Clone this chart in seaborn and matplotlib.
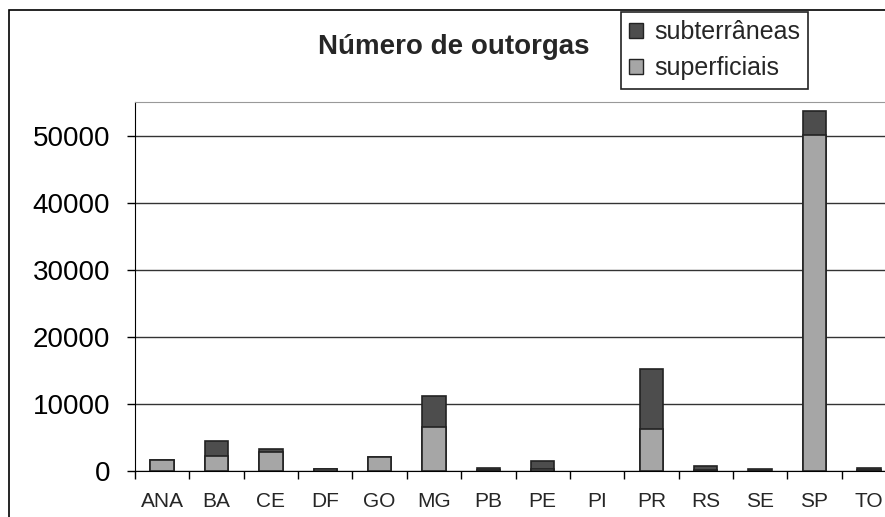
import numpy as np
import pandas as pd
import matplotlib
matplotlib.use("Agg")
import matplotlib.pyplot as plt
from matplotlib.patches import Patch, Rectangle
import seaborn as sns

estados = ["ANA", "BA", "CE", "DF", "GO", "MG", "PB", "PE", "PI", "PR", "RS", "SE", "SP", "TO"]
superficiais = [1600, 2230, 2780, 250, 2080, 6550, 100, 250, np.nan, 6200, 200, 50, 50150, 100]
subterraneas = [0, 2190, 550, 50, 0, 4670, 400, 1300, np.nan, 8930, 500, 250, 3450, 400]

COR_SUB = "#4d4d4d"
COR_SUP = "#a6a6a6"

sns.set_style("white")
plt.rcParams["font.family"] = ["Liberation Sans", "DejaVu Sans"]

df = pd.DataFrame({"estado": estados, "superficiais": superficiais,
                   "subterraneas": subterraneas})
df["total"] = df["superficiais"] + df["subterraneas"]

W, H = 885, 517
fig = plt.figure(figsize=(W / 100, H / 100), dpi=100)
x0, x1, ytop, ybot = 135, 896, 102, 471
ax = fig.add_axes([x0 / W, 1 - ybot / H, (x1 - x0) / W, (ybot - ytop) / H])

# moldura externa do gráfico
fig.patches.append(Rectangle((9 / W, -0.2), 2, 1.2 - 10 / H, fill=False,
                             edgecolor="black", linewidth=1.2,
                             transform=fig.transFigure, zorder=0))

sns.barplot(data=df, x="estado", y="total", order=estados, color=COR_SUB,
            width=0.43, edgecolor="#222222", linewidth=1.2, saturation=1,
            ax=ax, zorder=3)
sns.barplot(data=df, x="estado", y="superficiais", order=estados, color=COR_SUP,
            width=0.43, edgecolor="#222222", linewidth=1.2, saturation=1,
            ax=ax, zorder=4)

ax.set_ylim(0, 55000)
ax.set_xlim(-0.5, len(estados) - 0.5)
ax.set_yticks(np.arange(0, 50001, 10000))
ax.yaxis.grid(True, color="#333333", linewidth=1)
ax.set_axisbelow(True)
ax.set_xlabel("")
ax.set_ylabel("")

ax.tick_params(axis="y", labelsize=20, length=6, width=1, pad=12,
               direction="out", left=True, colors="black")
ax.tick_params(axis="x", which="major", labelsize=15, length=0, pad=15)
ax.set_xticks(np.arange(-0.5, len(estados), 1), minor=True)
ax.tick_params(axis="x", which="minor", length=6, width=1, direction="out",
               bottom=True, color="black")

ax.spines["left"].set_color("black")
ax.spines["bottom"].set_color("black")
ax.spines["top"].set_color("#999999")
ax.spines["right"].set_visible(False)

fig.text(454 / W, 1 - 47 / H, "Número de outorgas", fontsize=20,
         fontweight="bold", ha="center", va="center")

handles = [Patch(facecolor=COR_SUB, edgecolor="#222222", label="subterrâneas"),
           Patch(facecolor=COR_SUP, edgecolor="#222222", label="superficiais")]
leg = fig.legend(handles=handles, loc="upper left",
                 bbox_to_anchor=(621 / W, 1 - 12 / H), fontsize=18,
                 frameon=True, fancybox=False, edgecolor="#222222",
                 framealpha=1, handlelength=0.55, handleheight=0.55,
                 handletextpad=0.45, labelspacing=0.5, borderpad=0.32,
                 borderaxespad=0)
leg.get_frame().set_linewidth(1.2)

fig.savefig("out.png", dpi=100)
